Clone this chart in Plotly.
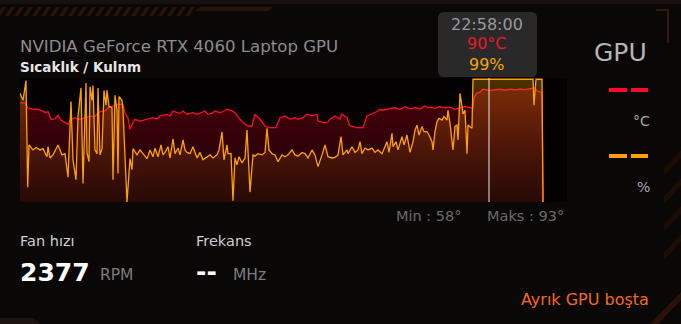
import plotly.graph_objects as go

# ---------------- data ----------------
gpu_name = "NVIDIA GeForce RTX 4060 Laptop GPU"
chart_title = "Sıcaklık / Kulnm"

# (sample time s, GPU temperature °C)
temp_samples = [
    (0, 80), (5, 80), (8, 75.6), (12, 75), (18, 74.8), (23, 73.4), (26, 72), (28, 73), (31, 66.7),
    (35, 67), (38, 70), (41, 66), (45, 64), (48, 62.6), (51, 66.7), (55, 68), (58, 66.7), (62, 67),
    (65, 68), (70, 69), (75, 69), (78, 72), (81, 73), (85, 73.4), (88, 76), (93, 77.4), (98, 78.8),
    (103, 78.8), (105, 72), (108, 68), (110, 58.6), (112, 62.7), (115, 66.7), (120, 65.3), (124, 66),
    (127, 66.7), (130, 67.5), (133, 68), (137, 67), (140, 69.4), (144, 70), (147, 70.7), (150, 69.5),
    (153, 73.4), (157, 72), (160, 71.5), (163, 73.4), (167, 70.7), (170, 71.5), (173, 72), (177, 70.7),
    (180, 71.5), (185, 73.4), (188, 70.7), (192, 71.5), (195, 73.4), (200, 72), (203, 73), (207, 74.8),
    (212, 73.5), (215, 72), (220, 66.7), (225, 62.7), (228, 61.3), (232, 61.3), (235, 70.7), (240, 66.7),
    (245, 61.3), (247, 60.5), (250, 60), (253, 60), (256, 60), (260, 68), (265, 69.4), (270, 66.7),
    (273, 67.5), (275, 68), (278, 66.7), (283, 68), (287, 70.7), (292, 69.4), (297, 70.7), (298, 65.3),
    (302, 64.5), (305, 64), (308, 64.5), (310, 66.7), (315, 69.4), (320, 66.7), (322, 70.7), (325, 69.4),
    (327, 68), (330, 61.3), (333, 60.5), (337, 60), (340, 60), (343, 60), (347, 69.4), (350, 70.5),
    (353, 72), (357, 73), (360, 74.8), (363, 74), (367, 74.8), (370, 75.5), (375, 76), (380, 74.8),
    (385, 76.9), (390, 75.3), (395, 76), (400, 75.2), (405, 77.4), (408, 76), (410, 76.5), (415, 75.5),
    (420, 76.8), (425, 76), (430, 76.5), (435, 74.8), (440, 76), (445, 77), (450, 76.2), (453, 75.5),
    (454, 84), (457, 88), (460, 88.5), (463, 91), (467, 90.5), (470, 90), (475, 90.5), (480, 91),
    (485, 90.2), (490, 91), (495, 90.5), (500, 91), (505, 90.6), (510, 91.4), (515, 92), (517, 89.5),
    (520, 89), (522, 88.5), (523, 0),
]

# (sample time s, GPU usage %)
usage_samples = [
    (0, 87.6), (3, 82), (6, 98), (7.7, 12), (9, 46), (13, 42), (16, 44), (20, 42), (23, 43), (27, 36.5),
    (28, 44.6), (30, 35.5), (33, 38), (38, 46), (42, 38), (45, 39), (48, 20), (51, 81), (53, 34), (56, 18),
    (58, 69), (61, 92), (63, 15), (66, 96), (67, 39.5), (69, 32.5), (70, 93), (72, 82), (73, 94), (75, 42),
    (77, 39), (78, 92), (80, 38), (82, 43), (84, 90), (86, 78), (87, 90), (89, 77), (92, 76), (93, 18),
    (95, 86), (97, 74), (98, 23), (99, 85), (102, 82), (103, 74), (105, 36.5), (107, 0), (110, 35),
    (112, 26), (113, 43), (117, 38), (120, 42), (123, 39), (127, 35), (130, 42), (133, 36.5), (135, 43.5),
    (138, 36.5), (141, 46), (143, 38), (145, 40), (148, 44.6), (150, 35.5), (152, 48.9), (153, 51),
    (155, 39), (158, 43.5), (160, 38), (163, 50), (165, 42), (167, 40), (170, 39), (173, 44.6),
    (177, 35.5), (180, 40), (183, 34), (187, 36.5), (190, 38), (193, 35.5), (197, 38), (199, 42),
    (202, 56.5), (204, 34), (207, 46), (208, 39), (211, 39), (213, 1), (215, 35.5), (217, 30),
    (219, 36.5), (222, 31.5), (225, 35.5), (227, 58), (230, 8), (233, 38), (235, 37), (238, 39),
    (242, 38), (245, 40), (247, 59.5), (249, 42), (252, 39), (255, 38), (258, 32.5), (262, 38),
    (265, 36.5), (268, 38), (272, 42), (275, 38), (278, 37), (282, 40), (285, 39), (288, 35.5),
    (292, 42), (295, 38), (298, 28.5), (302, 38), (305, 46), (308, 36.5), (312, 35.5), (315, 36),
    (318, 38), (321, 52.7), (323, 38), (327, 42), (328, 39), (332, 44.6), (335, 40), (338, 42),
    (340, 48.6), (342, 39), (345, 43.5), (348, 42), (352, 43.5), (355, 40), (358, 42), (362, 39),
    (365, 44.6), (367, 48.6), (369, 40), (372, 55.4), (373, 44.6), (376, 48.6), (378, 42), (382, 52.7),
    (384, 46), (387, 54), (390, 40), (393, 48.6), (395, 58), (397, 62), (399, 54), (402, 60.8),
    (404, 56.7), (407, 56.7), (409, 54), (412, 48.6), (413, 42), (415, 56.7), (417, 64.7), (419, 67.5),
    (422, 66), (424, 68.8), (427, 66), (428, 74), (430, 63.4), (433, 42), (435, 61), (437, 62),
    (438, 50), (440, 87.6), (442, 77), (443, 71), (445, 74), (447, 39), (448, 62), (450, 60.8),
    (452, 59.5), (453, 99), (477, 98.5), (480, 99), (513, 99), (514, 78), (516, 99), (522, 99), (523, 0),
]

temp_t = [s[0] for s in temp_samples]
temp_c = [s[1] for s in temp_samples]
usage_t = [s[0] for s in usage_samples]
usage_pct = [s[1] for s in usage_samples]

x_span = 547
hover_t = 469
hover_time = "22:58:00"
hover_temp = 90
hover_usage = 99
temp_min = 58
temp_max = 93
fan_rpm = 2377
freq_mhz = "--"
status_text = "Ayrık GPU boşta"

# ---------------- layout helpers ----------------
W, H = 681, 324
def P(x):
    return x / W
def Q(y):
    return 1 - y / H

RED = "#ff0a2a"
ORANGE = "#ffa200"
FONT = "DejaVu Sans"

fig = go.Figure()
fig.add_trace(go.Scatter(
    x=temp_t, y=temp_c, mode="lines",
    line=dict(color=RED, width=1.3),
    fill="tozeroy",
    fillgradient=dict(type="vertical",
                      colorscale=[[0, "rgb(24,3,5)"], [1, "rgb(72,0,11)"]]),
    hoverinfo="skip", showlegend=False))
fig.add_trace(go.Scatter(
    x=usage_t, y=usage_pct, mode="lines",
    line=dict(color=ORANGE, width=1.3),
    fill="tozeroy",
    fillgradient=dict(type="vertical",
                      colorscale=[[0, "rgba(150,60,10,0.12)"], [1, "rgba(255,160,0,0.30)"]]),
    hoverinfo="skip", showlegend=False))

shapes = []
# hover guide line
shapes.append(dict(type="line", xref="x", yref="y", x0=hover_t, x1=hover_t, y0=0, y1=100,
                   line=dict(color="#e6e6e6", width=1)))

# tooltip rounded box
def rrect(x0, y0, x1, y1, r):
    rx, ry = r / W, r / H
    a, b, c, d = P(x0), P(x1), Q(y1), Q(y0)
    return (f"M {a+rx},{d} L {b-rx},{d} Q {b},{d} {b},{d-ry} L {b},{c+ry} Q {b},{c} {b-rx},{c} "
            f"L {a+rx},{c} Q {a},{c} {a},{c+ry} L {a},{d-ry} Q {a},{d} {a+rx},{d} Z")
shapes.append(dict(type="path", xref="paper", yref="paper", path=rrect(438, 12, 537, 77, 6),
                   fillcolor="#292929", line=dict(width=0)))

# legend dashes
for (y, col) in [(90, RED), (156, ORANGE)]:
    for (xa, xb) in [(609, 627), (631, 648)]:
        shapes.append(dict(type="rect", xref="paper", yref="paper",
                           x0=P(xa), x1=P(xb), y0=Q(y + 2), y1=Q(y - 2),
                           fillcolor=col, line=dict(width=0)))

# decorative header band and hatching
shapes.append(dict(type="rect", xref="paper", yref="paper", x0=0, x1=1, y0=Q(4), y1=1,
                   fillcolor="#181010", line=dict(width=0), layer="below"))
for k in range(22):
    x = 2 + 9 * k
    shapes.append(dict(type="path", xref="paper", yref="paper",
                       path=f"M {P(x)},{Q(7)} L {P(x+4)},{Q(7)} L {P(x-2)},{Q(16)} L {P(x-6)},{Q(16)} Z",
                       fillcolor="#2c1309", line=dict(width=0), layer="below"))
shapes.append(dict(type="path", xref="paper", yref="paper",
                   path=f"M {P(200)},{Q(7)} L {P(273)},{Q(7)} L {P(268)},{Q(11)} L {P(195)},{Q(11)} Z",
                   fillcolor="#2c1309", line=dict(width=0), layer="below"))
# corner bracket top-right
shapes.append(dict(type="path", xref="paper", yref="paper",
                   path=f"M {P(656)},{Q(10)} L {P(668)},{Q(10)} L {P(668)},{Q(43)}",
                   line=dict(color="#3a180b", width=2), layer="below"))
# right edge diagonal stripes
for k in range(4):
    y = 150 + 28 * k
    shapes.append(dict(type="path", xref="paper", yref="paper",
                       path=f"M {P(681)},{Q(y)} L {P(681)},{Q(y+8)} L {P(664)},{Q(y+26)} L {P(664)},{Q(y+18)} Z",
                       fillcolor="#1c0d07", line=dict(width=0), layer="below"))
shapes.append(dict(type="path", xref="paper", yref="paper",
                   path=f"M {P(681)},{Q(292)} L {P(681)},{Q(300)} L {P(658)},{Q(324)} L {P(650)},{Q(324)} Z",
                   fillcolor="#2a1209", line=dict(width=0), layer="below"))
shapes.append(dict(type="path", xref="paper", yref="paper",
                   path=f"M {P(0)},{Q(318)} L {P(34)},{Q(318)} L {P(40)},{Q(324)} L {P(0)},{Q(324)} Z",
                   fillcolor="#1c1410", line=dict(width=0), layer="below"))

ann = []
def text(s, x, y, size, color, xanchor="left", family=FONT, bold=False):
    ann.append(dict(text=(f"<b>{s}</b>" if bold else s), x=P(x), y=Q(y), xref="paper", yref="paper",
                    xanchor=xanchor, yanchor="middle", showarrow=False,
                    font=dict(size=size, color=color, family=family)))

text(gpu_name, 18, 47, 16.6, "#8c8c8c")
text(chart_title, 18, 67, 13.5, "#e6e6e6", bold=True)
text("GPU", 620, 52, 25, "#b4b4b4", xanchor="center")
text("°C", 641, 121, 14, "#a8a8a8", xanchor="center")
text("%", 643, 187, 14, "#a8a8a8", xanchor="center")
text(hover_time, 487, 24, 16, "#9a9a9a", xanchor="center")
text(f"{hover_temp}°C", 487, 44, 16, "#e8182e", xanchor="center")
text(f"{hover_usage}%", 487, 64, 16, "#f2a60a", xanchor="center")
text(f"Min : {temp_min}°", 394, 216, 14.5, "#6a6a6a")
text(f"Maks : {temp_max}°", 485, 216, 14.5, "#6a6a6a")
text("Fan hızı", 18, 241, 14.5, "#cfcfcf")
text(str(fan_rpm), 18, 272, 25, "#ffffff", bold=True)
text("RPM", 98, 275, 15.5, "#7c7c7c")
text("Frekans", 194, 241, 14.5, "#cfcfcf")
text(freq_mhz, 194, 271, 25, "#ffffff", bold=True)
text("MHz", 231, 275, 15.5, "#7c7c7c")
text(status_text, 651, 299, 16, "#f06a22", xanchor="right")

fig.update_layout(
    width=W, height=H,
    margin=dict(l=0, r=0, t=0, b=0),
    paper_bgcolor="#0a0707",
    plot_bgcolor="#030101",
    xaxis=dict(domain=[P(20), P(567)], range=[0, x_span], visible=False, fixedrange=True),
    yaxis=dict(domain=[Q(202), Q(78)], range=[0, 100], visible=False, fixedrange=True),
    shapes=shapes,
    annotations=ann,
    showlegend=False,
)
fig.write_html("out.html")
